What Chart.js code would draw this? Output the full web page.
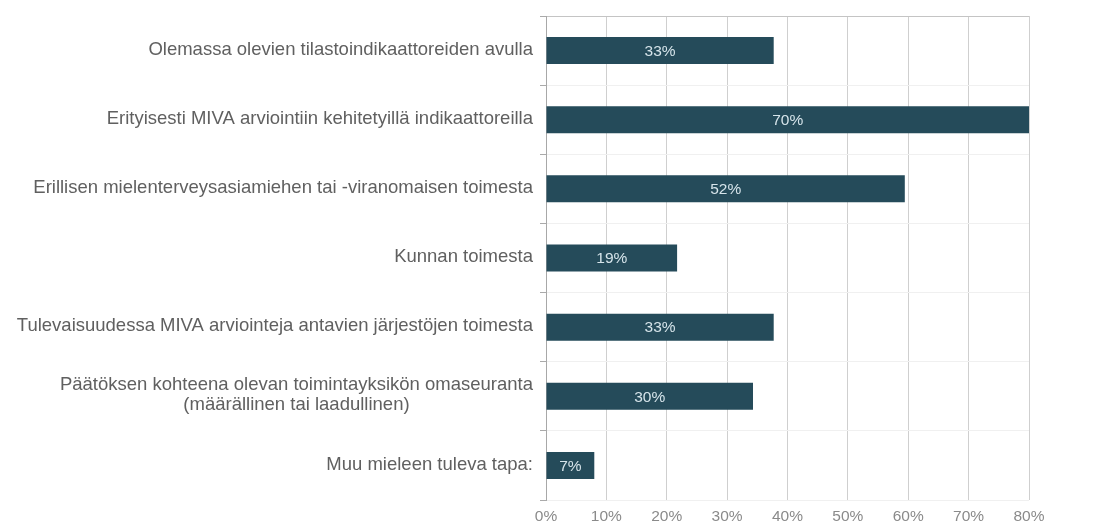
<!DOCTYPE html>
<html>
<head>
<meta charset="utf-8">
<script src="https://cdn.jsdelivr.net/npm/chart.js@4"></script>
<style>
  html, body { margin: 0; padding: 0; background: #fff; }
  #wrap { width: 1114px; height: 526px; }
</style>
</head>
<body>
<div id="wrap"><canvas id="miva"></canvas></div>
<script>
const categories = [
  ["Olemassa olevien tilastoindikaattoreiden avulla"],
  ["Erityisesti MIVA arviointiin kehitetyillä indikaattoreilla"],
  ["Erillisen mielenterveysasiamiehen tai -viranomaisen toimesta"],
  ["Kunnan toimesta"],
  ["Tulevaisuudessa MIVA arviointeja antavien järjestöjen toimesta"],
  ["Päätöksen kohteena olevan toimintayksikön omaseuranta", "(määrällinen tai laadullinen)"],
  ["Muu mieleen tuleva tapa:"],
];
const values = [33, 70, 52, 19, 33, 30, 7];
const xTickLabels = ["0%", "10%", "20%", "30%", "40%", "50%", "60%", "70%", "80%"];

const FONT = "'Liberation Sans', Arial, sans-serif";
// in the original the longest bar reaches the last gridline
const xMax = Math.max(...values);

const yLabels = {
  id: "yLabels",
  afterDraw(chart) {
    const ctx = chart.ctx;
    const y = chart.scales.y;
    ctx.save();
    ctx.font = "18.5px " + FONT;
    ctx.fillStyle = "#606060";
    ctx.textBaseline = "middle";
    ctx.textAlign = "center";
    const right = y.right - 13;
    const lh = 20;
    categories.forEach((lines, i) => {
      const cy = y.getPixelForTick(i);
      const w = Math.max(...lines.map((l) => ctx.measureText(l).width));
      const cx = right - w / 2;
      lines.forEach((l, j) => {
        ctx.fillText(l, cx, cy - 1 + (j - (lines.length - 1) / 2) * lh);
      });
    });
    ctx.restore();
  },
};

const barLabels = {
  id: "barLabels",
  afterDatasetsDraw(chart) {
    const ctx = chart.ctx;
    ctx.save();
    ctx.font = "15.5px " + FONT;
    ctx.fillStyle = "#d6e4ea";
    ctx.textAlign = "center";
    ctx.textBaseline = "middle";
    chart.getDatasetMeta(0).data.forEach((bar, i) => {
      const p = bar.getProps(["x", "base", "y"], true);
      ctx.fillText(values[i] + "%", (p.x + p.base) / 2, p.y + 1);
    });
    ctx.restore();
  },
};

new Chart(document.getElementById("miva"), {
  type: "bar",
  data: {
    labels: categories,
    datasets: [
      {
        data: values,
        backgroundColor: "#254b5a",
        borderWidth: 0,
        categoryPercentage: 1,
        barPercentage: 0.39,
      },
    ],
  },
  options: {
    indexAxis: "y",
    responsive: true,
    maintainAspectRatio: false,
    animation: false,
    layout: { padding: { top: 16, right: 85, bottom: 0, left: 0 } },
    plugins: {
      legend: { display: false },
      tooltip: { enabled: false },
    },
    scales: {
      x: {
        min: 0,
        max: xMax,
        afterBuildTicks: function (scale) {
          scale.ticks = xTickLabels.map((_, i) => ({
            value: (i * xMax) / (xTickLabels.length - 1),
          }));
        },
        ticks: {
          callback: function (value, index) {
            return xTickLabels[index];
          },
          color: "#8a8a8a",
          font: { family: FONT, size: 15.5 },
          padding: 7,
          maxRotation: 0,
        },
        grid: {
          color: "#cfcfcf",
          drawTicks: false,
        },
        border: { display: false },
        afterFit: function (scale) {
          scale.height = 26;
        },
      },
      y: {
        ticks: { display: false },
        grid: {
          offset: true,
          color: function (ctx) {
            return ctx.index === 0 ? "#c4c4c4" : "#f0f0f0";
          },
          tickColor: "#aaa",
          tickLength: 6,
        },
        border: { display: true, color: "#a8a8a8" },
        afterFit: function (scale) {
          scale.width = 546;
        },
      },
    },
  },
  plugins: [yLabels, barLabels],
});
</script>
</body>
</html>
